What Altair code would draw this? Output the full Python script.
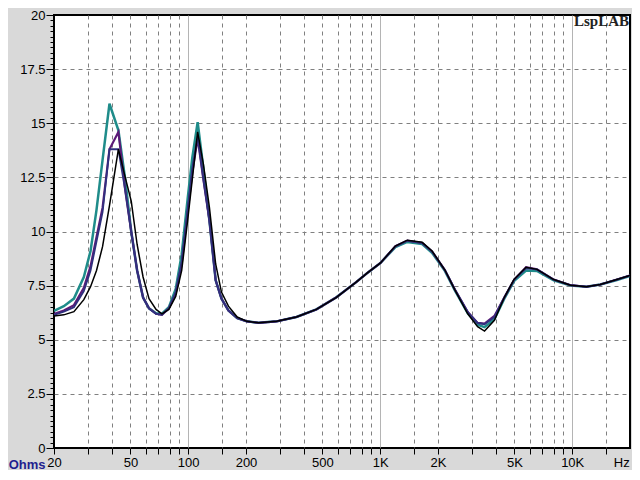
import altair as alt
import pandas as pd

freq = [20, 22.5, 25.4, 28.6, 31.0, 33.3, 35.8, 38.9, 43.3, 47.0,
        50.5, 54.2, 58.2, 62.5, 68.0, 73.0, 79.3, 86.1, 92.5, 99.3,
        105, 112, 120, 129, 139, 149, 162, 180, 202, 233,
        289, 366, 465, 589, 747, 861, 1004, 1200, 1384, 1654,
        1862, 2172, 2448, 2858, 3216, 3494, 3934, 4428, 4988, 5750,
        6552, 8012, 9808, 11866, 14004, 16926, 20000]

teal = [6.33, 6.55, 6.9, 7.9, 9.1, 11.0, 13.3, 15.9, 14.67, 12.4,
        10.0, 8.2, 6.95, 6.45, 6.22, 6.2, 6.5, 7.35, 8.95, 11.5,
        13.4, 15.05, 12.9, 10.5, 7.75, 6.9, 6.35, 6.0, 5.85, 5.78,
        5.85, 6.05, 6.4, 6.95, 7.65, 8.1, 8.55, 9.28, 9.52, 9.42,
        9.02, 8.18, 7.28, 6.22, 5.7, 5.58, 5.95, 6.9, 7.72, 8.2,
        8.18, 7.74, 7.5, 7.45, 7.55, 7.75, 7.95]

purple = [6.2, 6.35, 6.6, 7.4, 8.4, 9.75, 11.1, 13.8, 14.6, 11.9,
          10.0, 8.2, 6.95, 6.45, 6.2, 6.15, 6.45, 7.15, 8.5, 10.9,
          12.7, 14.3, 12.4, 10.5, 7.75, 6.9, 6.35, 6.0, 5.85, 5.78,
          5.85, 6.05, 6.4, 6.95, 7.65, 8.1, 8.55, 9.32, 9.58, 9.47,
          9.08, 8.22, 7.32, 6.28, 5.78, 5.75, 6.1, 6.95, 7.78, 8.35,
          8.25, 7.78, 7.52, 7.45, 7.55, 7.77, 7.97]

navy = [6.15, 6.3, 6.5, 7.25, 8.2, 9.55, 10.9, 13.8, 13.8, 11.9,
        10.0, 8.2, 6.95, 6.45, 6.2, 6.15, 6.45, 7.2, 8.6, 11.0,
        12.9, 14.4, 12.4, 10.5, 7.75, 6.9, 6.35, 6.0, 5.85, 5.78,
        5.85, 6.05, 6.4, 6.95, 7.65, 8.1, 8.55, 9.32, 9.58, 9.47,
        9.08, 8.22, 7.32, 6.28, 5.78, 5.72, 6.05, 6.95, 7.78, 8.3,
        8.25, 7.78, 7.52, 7.45, 7.55, 7.77, 7.97]

black = [6.1, 6.15, 6.3, 6.85, 7.45, 8.2, 9.3, 11.2, 13.8, 12.5,
         11.4, 9.4, 7.9, 6.9, 6.4, 6.2, 6.4, 7.0, 8.2, 10.5,
         12.4, 14.6, 13.1, 11.1, 8.5, 7.2, 6.55, 6.05, 5.85, 5.78,
         5.85, 6.05, 6.4, 6.95, 7.65, 8.1, 8.55, 9.33, 9.6, 9.5,
         9.1, 8.22, 7.3, 6.2, 5.6, 5.4, 5.9, 6.95, 7.8, 8.35,
         8.25, 7.78, 7.52, 7.45, 7.55, 7.77, 7.97]

series_names = ["A", "B", "C", "D"]
series_colors = ["#1f8c8a", "#5c1a78", "#30307e", "#000000"]
series_widths = [2.5, 1.5, 2.5, 1.0]

x_grid_vals = [30, 40, 50, 60, 70, 80, 90, 100, 150, 200, 300, 400, 500, 600,
               700, 800, 900, 1000, 1500, 2000, 3000, 4000, 5000, 6000, 7000,
               8000, 9000, 10000, 15000]
x_label_vals = [20, 50, 100, 200, 500, 1000, 2000, 5000, 10000]
hz_pos = 18000
y_vals = [i * 0.25 for i in range(81)]

rows = []
for name, vals in zip(series_names, [teal, purple, navy, black]):
    for f, v in zip(freq, vals):
        rows.append({"series": name, "freq": f, "ohms": v})
df = pd.DataFrame(rows)

x_values = sorted(set(x_grid_vals + x_label_vals + [hz_pos]))

x_axis = alt.Axis(
    values=x_values,
    labelExpr=("datum.value == 18000 ? 'Hz' : (indexof([20,50,100,200,500], datum.value) >= 0 ? datum.value + '' : "
               "(indexof([1000,2000,5000,10000], datum.value) >= 0 ? (datum.value/1000) + 'K' : ''))"),
    labelOverlap=False, labelFlush=False, labelBound=False,
    labelFont="Liberation Sans", labelFontSize=13, labelColor="#000000",
    labelPadding=2,
    domain=False,
    grid=True,
    gridColor={"condition": {"test": "datum.value==100||datum.value==1000||datum.value==10000", "value": "#9a9a9a"}, "value": "#808080"},
    gridDash={"condition": {"test": "datum.value==100||datum.value==1000||datum.value==10000", "value": [1, 0]}, "value": [4, 4]},
    gridOpacity={"condition": {"test": "datum.value==18000||datum.value==20", "value": 0}, "value": 1},
    ticks=True, tickColor="#000000", tickWidth=1,
    tickSize=6,
    tickOpacity={"condition": {"test": "datum.value==18000", "value": 0}, "value": 1},
    title=None,
)

y_axis = alt.Axis(
    values=y_vals,
    labelExpr="datum.value % 2.5 == 0 ? datum.value + '' : ''",
    labelOverlap=False, labelFlush=False, labelBound=False,
    labelFont="Liberation Sans", labelFontSize=13, labelColor="#000000",
    labelPadding=1,
    domain=False,
    grid=True, gridColor="#808080", gridDash=[4, 4],
    gridOpacity={"condition": {"test": "datum.value % 2.5 != 0 || datum.value == 0 || datum.value == 20", "value": 0}, "value": 1},
    ticks=True, tickColor="#000000", tickWidth=1,
    tickSize={"condition": {"test": "datum.value % 2.5 == 0", "value": 8}, "value": 4},
    title="Ohms", titleAngle=0, titleX=-9, titleY=449, titleAlign="right",
    titleBaseline="middle", titleFont="Liberation Sans", titleFontSize=13,
    titleFontWeight="bold", titleColor="#1f1f8f",
)

chart = alt.Chart(df).mark_line(clip=True).encode(
    x=alt.X("freq:Q", scale=alt.Scale(type="log", domain=[20, 20000], nice=False), axis=x_axis),
    y=alt.Y("ohms:Q", scale=alt.Scale(domain=[0, 20], nice=False, zero=False), axis=y_axis),
    color=alt.Color("series:N", scale=alt.Scale(domain=series_names, range=series_colors), legend=None),
    strokeWidth=alt.StrokeWidth("series:N", scale=alt.Scale(domain=series_names, range=series_widths), legend=None),
).properties(
    width=576, height=433,
    padding={"left": 46, "top": 7, "right": 2, "bottom": 22},
    autosize=alt.AutoSizeParams(type="none"),
    title=alt.TitleParams(text="LspLAB", anchor="end", frame="group", orient="top",
                          font="Liberation Serif", fontSize=15, fontWeight="bold",
                          color="#222222", baseline="top", offset=0, dx=-1, dy=20),
).configure(
    background="#d9d9d9",
).configure_view(
    fill="#ffffff", stroke="#000000", strokeWidth=2,
)

chart.save("out.html", embed_options={"renderer": "svg", "actions": False})
